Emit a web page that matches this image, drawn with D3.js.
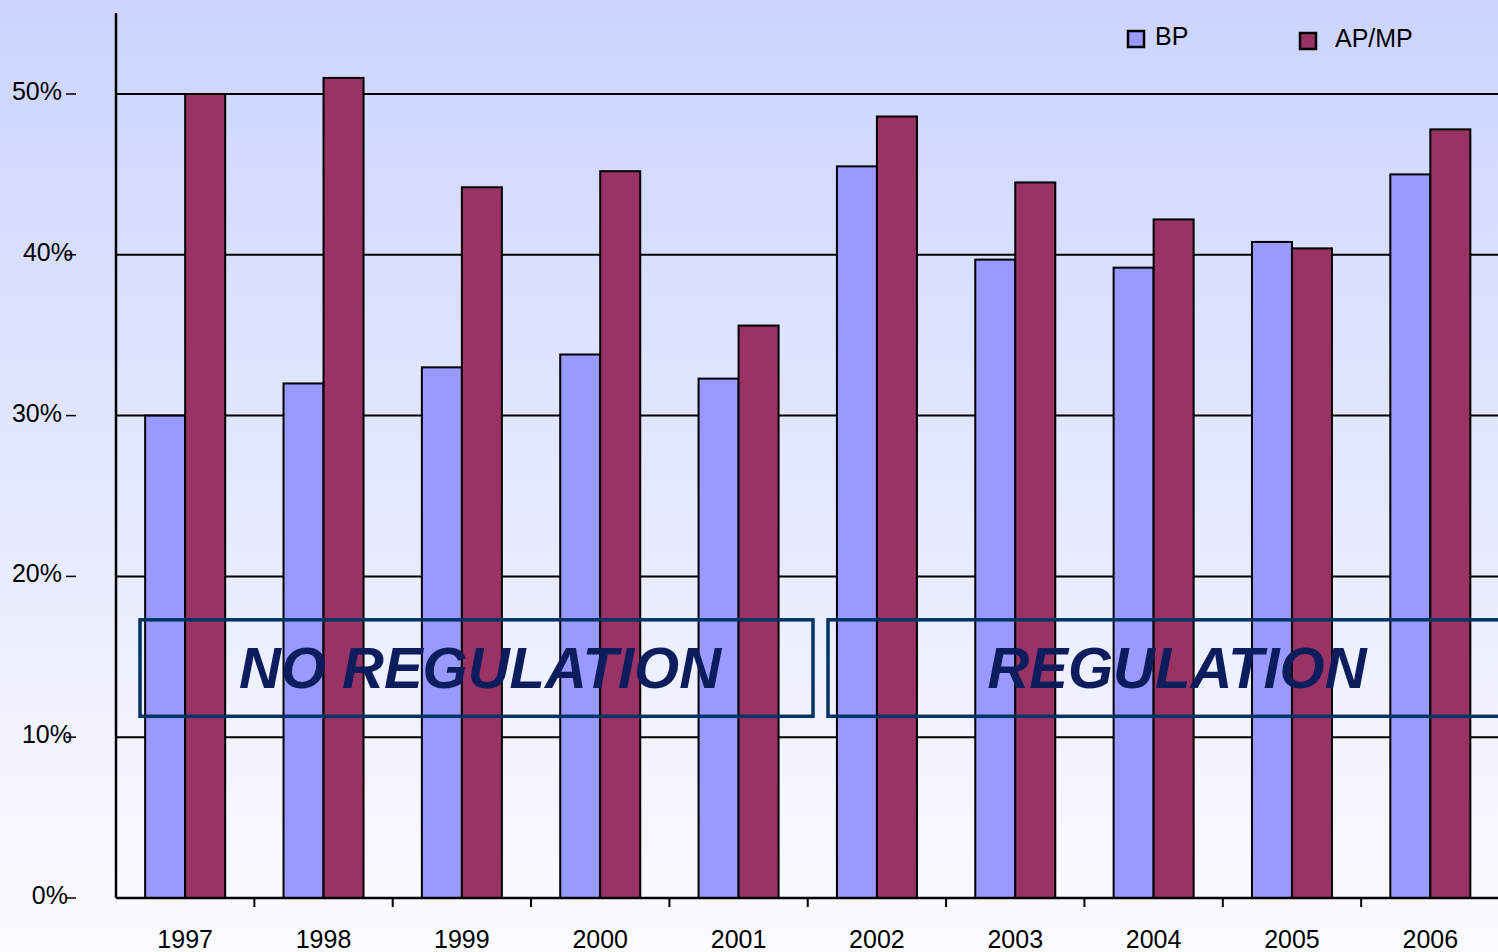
<!DOCTYPE html>
<html><head><meta charset="utf-8">
<script src="https://cdn.jsdelivr.net/npm/d3@7"></script>
<style>html,body{margin:0;padding:0;overflow:hidden;background:#fff}</style>
</head><body>
<svg id="c" width="1498" height="952"></svg>
<script>
const years = ["1997","1998","1999","2000","2001","2002","2003","2004","2005","2006"];
const bp = [30.0, 32.0, 33.0, 33.8, 32.3, 45.5, 39.7, 39.2, 40.8, 45.0];
const apmp = [50.0, 51.0, 44.2, 45.2, 35.6, 48.6, 44.5, 42.2, 40.4, 47.8];
const seriesNames = ["BP", "AP/MP"];
const yTicks = [0, 10, 20, 30, 40, 50];
const regions = [{label:"NO REGULATION", from:"1997", to:"2001"}, {label:"REGULATION", from:"2002", to:"2006"}];

const W = 1498, H = 952;
const colors = ["#9999ff", "#993366"];
const svg = d3.select("#c");
const defs = svg.append("defs");
const g = defs.append("linearGradient").attr("id","bg").attr("x1",0).attr("x2",0).attr("y1",0).attr("y2",1);
g.append("stop").attr("offset","0%").attr("stop-color","#ccd4ff");
g.append("stop").attr("offset","100%").attr("stop-color","#fcfcff");
svg.append("rect").attr("width",W).attr("height",H).attr("fill","url(#bg)");

const left = 116, right = 1499.5, bottom = 898;
const y = d3.scaleLinear().domain([0, 50]).range([bottom, 94]);
const x = d3.scaleBand().domain(years).range([left, right]).paddingInner(0).paddingOuter(0);
const inner = d3.scaleBand().domain(seriesNames).range([0, x.bandwidth()]).paddingOuter(0.729).paddingInner(0);

// gridlines
svg.append("g").selectAll("line").data(yTicks.slice(1)).join("line")
  .attr("x1", left).attr("x2", W).attr("y1", d=>y(d)).attr("y2", d=>y(d))
  .attr("stroke","#000").attr("stroke-width",2);

// bars
const rows = years.map((yr,i)=>({yr, vals:[bp[i], apmp[i]]}));
const grp = svg.append("g").selectAll("g").data(rows).join("g")
  .attr("transform", d=>`translate(${x(d.yr)},0)`);
grp.selectAll("rect").data(d=>d.vals.map((v,j)=>({v, s:seriesNames[j], j}))).join("rect")
  .attr("x", d=>inner(d.s)).attr("width", inner.bandwidth())
  .attr("y", d=>y(d.v)).attr("height", d=>bottom - y(d.v))
  .attr("fill", d=>colors[d.j]).attr("stroke","#000").attr("stroke-width",2);

// y axis line
svg.append("line").attr("x1",left).attr("x2",left).attr("y1",13).attr("y2",bottom).attr("stroke","#000").attr("stroke-width",2.5);
// x axis
const xAxis = svg.append("g").attr("transform",`translate(0,${bottom})`);
xAxis.append("line").attr("x1",left).attr("x2",W).attr("y1",0).attr("y2",0).attr("stroke","#000").attr("stroke-width",2.5);
xAxis.selectAll("line.t").data(years.slice(1).concat(["end"])).join("line").attr("class","t")
  .attr("x1", d=> d==="end" ? right : x(d)).attr("x2", d=> d==="end" ? right : x(d))
  .attr("y1",0).attr("y2",9).attr("stroke","#000").attr("stroke-width",2);
xAxis.selectAll("text").data(years).join("text")
  .attr("x", d=>x(d)+x.bandwidth()/2).attr("y", 50)
  .attr("text-anchor","middle").attr("font-family","Liberation Sans, Arial, sans-serif")
  .attr("font-size",25).attr("fill","#000").text(d=>d);

// y labels
const yEnd = {0:68, 10:72, 20:62, 30:62, 40:73, 50:62};
const yl = svg.append("g");
yl.selectAll("text").data(yTicks).join("text")
  .attr("x", d=>yEnd[d]).attr("y", d=>y(d)+6)
  .attr("text-anchor","end").attr("font-family","Liberation Sans, Arial, sans-serif")
  .attr("font-size",25).attr("fill","#000").text(d=>d+"%");
yl.selectAll("line").data(yTicks).join("line")
  .attr("x1",66).attr("x2",76).attr("y1",d=>y(d)).attr("y2",d=>y(d))
  .attr("stroke","#000").attr("stroke-width",1.5);

// region boxes
const rb = svg.append("g");
const boxes = [{x1:140, x2:813}, {x1:828, x2:1510}];
regions.forEach((r,i)=>{
  const b = boxes[i];
  rb.append("rect").attr("x",b.x1).attr("y",y(17.3)).attr("width",b.x2-b.x1).attr("height",y(11.3)-y(17.3))
    .attr("fill","none").attr("stroke","#003366").attr("stroke-width",3.5);
  const cx = i===0 ? 480 : 1177;
  rb.append("text").attr("x",cx).attr("y",688).attr("text-anchor","middle")
    .attr("font-family","Liberation Sans, Arial, sans-serif").attr("font-weight","bold").attr("font-style","italic")
    .attr("font-size",58).attr("fill","#0c1c5c").text(r.label);
});

// legend
const leg = svg.append("g");
const lpos = [{sx:1128, sy:31, tx:1155, ty:45}, {sx:1300, sy:33, tx:1335, ty:47}];
seriesNames.forEach((s,i)=>{
  const p = lpos[i];
  leg.append("rect").attr("x",p.sx).attr("y",p.sy).attr("width",16).attr("height",16)
    .attr("fill",colors[i]).attr("stroke","#000").attr("stroke-width",2.5);
  leg.append("text").attr("x",p.tx).attr("y",p.ty).attr("font-family","Liberation Sans, Arial, sans-serif")
    .attr("font-size",25).attr("fill","#000").text(s);
});
</script>
</body></html>
